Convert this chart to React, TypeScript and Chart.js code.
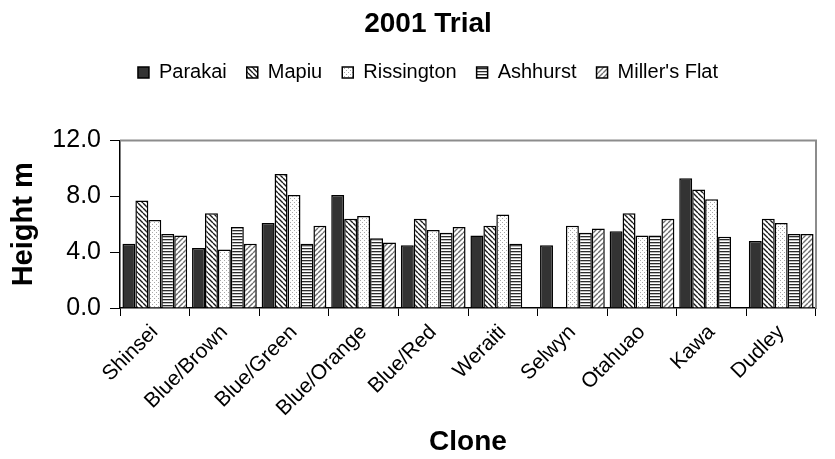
import { useEffect, useRef } from 'react';
import { Chart, registerables } from 'chart.js';

Chart.register(...registerables);

// Clone categories along the x axis
const clones = ['Shinsei', 'Blue/Brown', 'Blue/Green', 'Blue/Orange', 'Blue/Red', 'Weraiti', 'Selwyn', 'Otahuao', 'Kawa', 'Dudley'];

// Mean tree height (m) per site
const parakai = [4.6, 4.3, 6.1, 8.1, 4.5, 5.2, 4.5, 5.5, 9.3, 4.8];
const mapiu = [7.7, 6.8, 9.6, 6.4, 6.4, 5.9, null, 6.8, 8.5, 6.4];
const rissington = [6.3, 4.2, 8.1, 6.6, 5.6, 6.7, 5.9, 5.2, 7.8, 6.1];
const ashhurst = [5.3, 5.8, 4.6, 5.0, 5.4, 4.6, 5.4, 5.2, 5.1, 5.3];
const millersFlat = [5.2, 4.6, 5.9, 4.7, 5.8, null, 5.7, 6.4, null, 5.3];

const yMin = 0;
const yMax = 12;
const yStep = 4;

type Fill = 'solid' | 'backslash' | 'dots' | 'hlines' | 'slash';

function makeFill(kind: Fill): CanvasPattern | string {
  if (kind === 'solid') return '#333333';
  const c = document.createElement('canvas');
  const ctx = c.getContext('2d')!;
  if (kind === 'backslash' || kind === 'slash') {
    const s = 5;
    c.width = s;
    c.height = s;
    ctx.fillStyle = '#ffffff';
    ctx.fillRect(0, 0, s, s);
    ctx.strokeStyle = kind === 'backslash' ? '#1a1a1a' : '#6e6e6e';
    ctx.lineWidth = 1.4;
    ctx.beginPath();
    for (const o of [-s, 0, s]) {
      if (kind === 'backslash') {
        ctx.moveTo(o, 0);
        ctx.lineTo(o + s, s);
      } else {
        ctx.moveTo(o, s);
        ctx.lineTo(o + s, 0);
      }
    }
    ctx.stroke();
  } else if (kind === 'dots') {
    c.width = 4;
    c.height = 4;
    ctx.fillStyle = '#ffffff';
    ctx.fillRect(0, 0, 4, 4);
    ctx.fillStyle = '#a8a8a8';
    ctx.fillRect(0, 0, 1, 1);
    ctx.fillRect(2, 2, 1, 1);
  } else {
    c.width = 4;
    c.height = 3;
    ctx.fillStyle = '#ffffff';
    ctx.fillRect(0, 0, 4, 3);
    ctx.fillStyle = '#2a2a2a';
    ctx.fillRect(0, 0, 4, 1.3);
  }
  return ctx.createPattern(c, 'repeat')!;
}

// Grey frame along the top and right of the plot area
const plotFrame = {
  id: 'plotFrame',
  afterDatasetsDraw(chart: any) {
    const { ctx, chartArea } = chart;
    const { left, top, right, bottom } = chartArea;
    ctx.save();
    ctx.strokeStyle = '#8c8c8c';
    ctx.lineWidth = 2;
    ctx.beginPath();
    ctx.moveTo(left, top);
    ctx.lineTo(right, top);
    ctx.lineTo(right, bottom);
    ctx.stroke();
    ctx.restore();
  },
};

// Extra room between the legend row and the plot
const legendGap = {
  id: 'legendGap',
  beforeInit(chart: any) {
    const legend = chart.legend;
    if (!legend) return;
    const fit = legend.fit;
    legend.fit = function () {
      fit.call(legend);
      legend.height += 48;
    };
  },
};

export default function App() {
  const ref = useRef<HTMLCanvasElement>(null);

  useEffect(() => {
    const fam = "'Liberation Sans', Arial, sans-serif";
    Chart.defaults.font.family = fam;
    Chart.defaults.color = '#000000';

    const series: [string, (number | null)[], Fill][] = [
      ['Parakai', parakai, 'solid'],
      ['Mapiu', mapiu, 'backslash'],
      ['Rissington', rissington, 'dots'],
      ['Ashhurst', ashhurst, 'hlines'],
      ["Miller's Flat", millersFlat, 'slash'],
    ];

    const chart = new Chart(ref.current!, {
      type: 'bar',
      data: {
        labels: clones,
        datasets: series.map(([label, data, fill]) => ({
          label,
          data,
          backgroundColor: makeFill(fill),
          borderColor: '#000000',
          borderWidth: 1.5,
          categoryPercentage: 0.93,
          barPercentage: 1.0,
        })),
      },
      options: {
        animation: false,
        responsive: true,
        maintainAspectRatio: false,
        layout: { padding: { left: 32, right: 11, top: 0, bottom: 0 } },
        plugins: {
          title: {
            display: true,
            text: '2001 Trial',
            font: { size: 28, weight: 'bold', family: fam },
            color: '#000000',
            padding: { top: -1, bottom: 2 },
          },
          legend: {
            display: true,
            position: 'top',
            labels: {
              font: { size: 20, family: fam },
              color: '#000000',
              boxWidth: 11,
              boxHeight: 11,
              padding: 20,
            },
          },
          tooltip: { enabled: false },
        },
        scales: {
          x: {
            grid: {
              offset: true,
              drawOnChartArea: false,
              drawTicks: true,
              tickLength: 8,
              color: '#000000',
            },
            border: { color: '#000000', width: 1.5 },
            ticks: {
              maxRotation: 45,
              minRotation: 45,
              autoSkip: false,
              font: { size: 21, family: fam },
              color: '#000000',
              padding: 4,
            },
            title: {
              display: true,
              text: 'Clone',
              font: { size: 28, weight: 'bold', family: fam },
              color: '#000000',
              padding: { top: 0, bottom: -8 },
            },
            afterFit: (scale: any) => {
              scale.height = 143;
            },
          },
          y: {
            min: yMin,
            max: yMax,
            grid: {
              drawOnChartArea: false,
              drawTicks: true,
              tickLength: 10,
              color: '#000000',
            },
            border: { color: '#000000', width: 1.5 },
            ticks: {
              stepSize: yStep,
              font: { size: 25, family: fam },
              color: '#000000',
              padding: 9,
              callback: (v: any) => Number(v).toFixed(1),
            },
            title: {
              display: true,
              text: 'Height m',
              font: { size: 29, weight: 'bold', family: fam },
              color: '#000000',
              padding: { top: -33, bottom: 0 },
            },
            afterFit: (scale: any) => {
              scale.width = 80;
            },
          },
        },
      },
      plugins: [plotFrame, legendGap],
    });
    return () => chart.destroy();
  }, []);

  return (
    <div style={{ width: 819, height: 443, position: 'relative' }}>
      <canvas ref={ref} />
    </div>
  );
}
